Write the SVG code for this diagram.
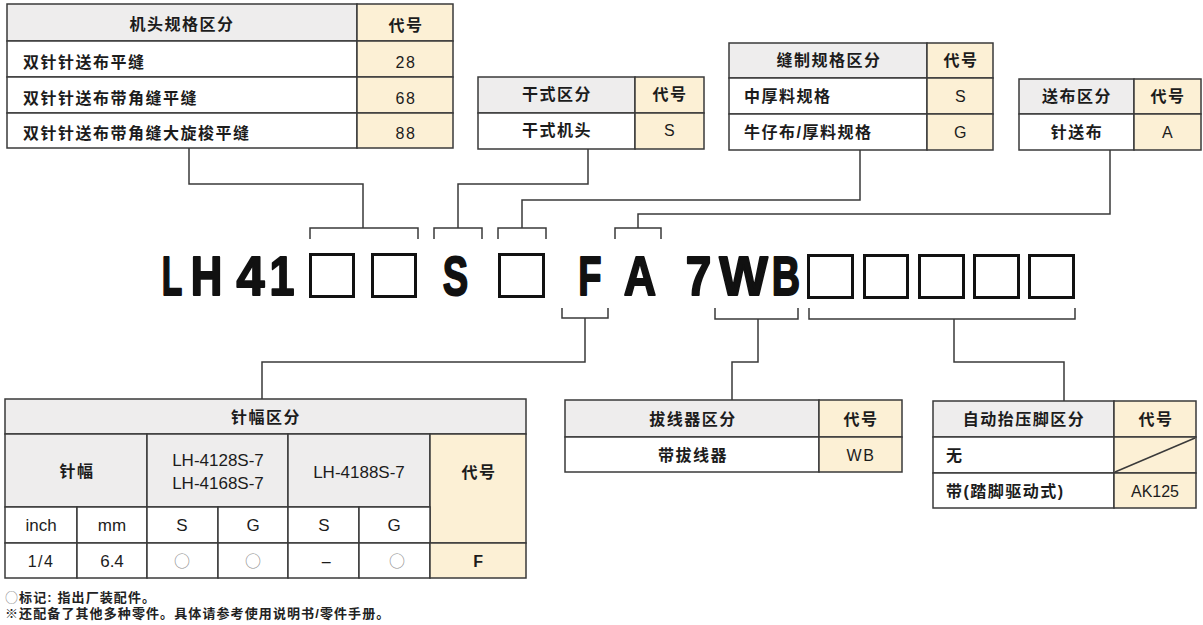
<svg xmlns="http://www.w3.org/2000/svg" width="1203" height="625" viewBox="0 0 1203 625">
<style>
.cl{stroke:#3a3a3a;stroke-width:1.5}
.hd{fill:#eeeded}
.cd{fill:#fcf0d5}
.wt{fill:#ffffff}
.t{font-family:"Liberation Sans","Noto Sans CJK SC",sans-serif;font-size:16px;fill:#1c1c1c;letter-spacing:1.5px}
.b{font-weight:bold}
.c{text-anchor:middle}
.l17{font-size:17px;letter-spacing:0}
.circ{font-family:"Noto Sans CJK SC",sans-serif;fill:#8a8a8a;letter-spacing:0}
.conn{fill:none;stroke:#3a3a3a;stroke-width:1.5}
.box{fill:none;stroke:#111;stroke-width:3}
.big{font-family:"Liberation Sans",sans-serif;font-weight:bold;font-size:56px;fill:#111;stroke:#111;stroke-width:2;stroke-linejoin:round;text-anchor:middle}
.note{font-family:"Liberation Sans","Noto Sans CJK SC",sans-serif;font-size:13px;font-weight:bold;fill:#222;letter-spacing:1.1px}
.nc{font-family:"Noto Sans CJK SC",sans-serif;font-weight:normal;fill:#888}
</style>
<rect width="1203" height="625" fill="#ffffff"/>

<g id="connectors">
<polyline class="conn" points="189,148 189,184 363,184 363,228"/>
<polyline class="conn" points="310,239 310,228 418,228 418,239"/>
<polyline class="conn" points="588,149 588,184 458,184 458,228"/>
<polyline class="conn" points="434,239 434,228 482,228 482,239"/>
<polyline class="conn" points="860,150 860,200 522,200 522,228"/>
<polyline class="conn" points="498,239 498,228 546,228 546,239"/>
<polyline class="conn" points="1110,150 1110,214 638,214 638,228"/>
<polyline class="conn" points="615,239 615,228 661,228 661,239"/>
<polyline class="conn" points="562,308 562,318 608,318 608,308"/>
<polyline class="conn" points="585,318 585,362 262,362 262,399"/>
<polyline class="conn" points="715,308 715,319 798,319 798,308"/>
<polyline class="conn" points="758,319 758,362 732,362 732,400"/>
<polyline class="conn" points="809,308 809,319 1075,319 1075,308"/>
<polyline class="conn" points="954,319 954,362 1064,362 1064,401"/>
</g>

<g id="model-code">
<text class="big" transform="translate(172,295) scale(0.6,1)">L</text>
<text class="big" transform="translate(206.5,295) scale(0.78,1)">H</text>
<text class="big" transform="translate(250.5,295) scale(0.9,1)">4</text>
<text class="big" transform="translate(282,295) scale(0.8,1)">1</text>
<rect class="box" x="310.5" y="254.5" width="43" height="42"/>
<rect class="box" x="372.5" y="254.5" width="43" height="42"/>
<text class="big" transform="translate(455.5,295) scale(0.68,1)">S</text>
<rect class="box" x="499.5" y="254.5" width="44" height="42"/>
<text class="big" transform="translate(590,295) scale(0.68,1)">F</text>
<text class="big" transform="translate(640,295) scale(0.8,1)">A</text>
<text class="big" transform="translate(698.5,295) scale(0.82,1)">7</text>
<text class="big" transform="translate(743.5,295) scale(0.92,1)">W</text>
<text class="big" transform="translate(786,295) scale(0.7,1)">B</text>
<rect class="box" x="808.5" y="255.5" width="44" height="42"/>
<rect class="box" x="864.5" y="255.5" width="43" height="42"/>
<rect class="box" x="919.5" y="255.5" width="44" height="42"/>
<rect class="box" x="974.5" y="255.5" width="44" height="42"/>
<rect class="box" x="1029.5" y="255.5" width="44" height="42"/>
</g>

<g id="table-head-spec">
<rect class="cl hd" x="7" y="4" width="350" height="37"/>
<rect class="cl cd" x="357" y="4" width="96" height="37"/>
<rect class="cl wt" x="7" y="41" width="350" height="36"/>
<rect class="cl cd" x="357" y="41" width="96" height="36"/>
<rect class="cl wt" x="7" y="77" width="350" height="36"/>
<rect class="cl cd" x="357" y="77" width="96" height="36"/>
<rect class="cl wt" x="7" y="113" width="350" height="35"/>
<rect class="cl cd" x="357" y="113" width="96" height="35"/>
<text class="t b c" x="182" y="30">机头规格区分</text>
<text class="t b c" x="406" y="31">代号</text>
<text class="t b" x="23" y="68">双针针送布平缝</text>
<text class="t c" x="406" y="68">28</text>
<text class="t b" x="23" y="104">双针针送布带角缝平缝</text>
<text class="t c" x="406" y="104">68</text>
<text class="t b" x="23" y="139">双针针送布带角缝大旋梭平缝</text>
<text class="t c" x="406" y="139">88</text>
</g>

<g id="table-dry">
<rect class="cl hd" x="478" y="77" width="157" height="36"/>
<rect class="cl cd" x="635" y="77" width="69" height="36"/>
<rect class="cl wt" x="478" y="113" width="157" height="36"/>
<rect class="cl cd" x="635" y="113" width="69" height="36"/>
<text class="t b c" x="557" y="100">干式区分</text>
<text class="t b c" x="670" y="100">代号</text>
<text class="t b c" x="557" y="136">干式机头</text>
<text class="t c" x="670" y="136">S</text>
</g>

<g id="table-sewing">
<rect class="cl hd" x="729" y="43" width="198" height="35"/>
<rect class="cl cd" x="927" y="43" width="66" height="35"/>
<rect class="cl wt" x="729" y="78" width="198" height="36"/>
<rect class="cl cd" x="927" y="78" width="66" height="36"/>
<rect class="cl wt" x="729" y="114" width="198" height="36"/>
<rect class="cl cd" x="927" y="114" width="66" height="36"/>
<text class="t b c" x="829" y="66">缝制规格区分</text>
<text class="t b c" x="961" y="66">代号</text>
<text class="t b" x="744" y="102">中厚料规格</text>
<text class="t c" x="961" y="102">S</text>
<text class="t b" x="744" y="138">牛仔布/厚料规格</text>
<text class="t c" x="961" y="138">G</text>
</g>

<g id="table-feed">
<rect class="cl hd" x="1019" y="79" width="115" height="35"/>
<rect class="cl cd" x="1134" y="79" width="67" height="35"/>
<rect class="cl wt" x="1019" y="114" width="115" height="36"/>
<rect class="cl cd" x="1134" y="114" width="67" height="36"/>
<text class="t b c" x="1077" y="102">送布区分</text>
<text class="t b c" x="1168" y="102">代号</text>
<text class="t b c" x="1077" y="138">针送布</text>
<text class="t c" x="1168" y="138">A</text>
</g>

<g id="table-needle-gauge">
<rect class="cl hd" x="5" y="399" width="521" height="35"/>
<rect class="cl hd" x="5" y="434" width="142" height="73"/>
<rect class="cl hd" x="147" y="434" width="141" height="73"/>
<rect class="cl hd" x="288" y="434" width="142" height="73"/>
<rect class="cl cd" x="430" y="434" width="96" height="109"/>
<rect class="cl wt" x="5" y="507" width="72" height="36"/>
<rect class="cl wt" x="77" y="507" width="70" height="36"/>
<rect class="cl wt" x="147" y="507" width="71" height="36"/>
<rect class="cl wt" x="218" y="507" width="70" height="36"/>
<rect class="cl wt" x="288" y="507" width="71" height="36"/>
<rect class="cl wt" x="359" y="507" width="71" height="36"/>
<rect class="cl wt" x="5" y="543" width="72" height="35"/>
<rect class="cl wt" x="77" y="543" width="70" height="35"/>
<rect class="cl wt" x="147" y="543" width="71" height="35"/>
<rect class="cl wt" x="218" y="543" width="70" height="35"/>
<rect class="cl wt" x="288" y="543" width="71" height="35"/>
<rect class="cl wt" x="359" y="543" width="71" height="35"/>
<rect class="cl cd" x="430" y="543" width="96" height="35"/>
<text class="t b c" x="266" y="423">针幅区分</text>
<text class="t b c" x="77" y="477">针幅</text>
<text class="t c l17" x="218" y="466">LH-4128S-7</text>
<text class="t c l17" x="218" y="489">LH-4168S-7</text>
<text class="t c l17" x="359" y="478">LH-4188S-7</text>
<text class="t b c" x="479" y="478">代号</text>
<text class="t c l17" x="41" y="531">inch</text>
<text class="t c l17" x="112" y="531">mm</text>
<text class="t c l17" x="182" y="531">S</text>
<text class="t c l17" x="253" y="531">G</text>
<text class="t c l17" x="324" y="531">S</text>
<text class="t c l17" x="394" y="531">G</text>
<text class="t c" x="41" y="567">1/4</text>
<text class="t c l17" x="112" y="567">6.4</text>
<text class="t c circ" x="182" y="567">○</text>
<text class="t c circ" x="253" y="567">○</text>
<text class="t c" x="327" y="567">–</text>
<text class="t c circ" x="397" y="567">○</text>
<text class="t b c" x="479" y="567">F</text>
</g>

<g id="table-thread-wiper">
<rect class="cl hd" x="565" y="400" width="254" height="37"/>
<rect class="cl cd" x="819" y="400" width="83" height="37"/>
<rect class="cl wt" x="565" y="437" width="254" height="35"/>
<rect class="cl cd" x="819" y="437" width="83" height="35"/>
<text class="t b c" x="693" y="425">拔线器区分</text>
<text class="t b c" x="861" y="425">代号</text>
<text class="t b c" x="693" y="461">带拔线器</text>
<text class="t c" x="861" y="461">WB</text>
</g>

<g id="table-auto-lifter">
<rect class="cl hd" x="933" y="401" width="181" height="36"/>
<rect class="cl cd" x="1114" y="401" width="82" height="36"/>
<rect class="cl wt" x="933" y="437" width="181" height="36"/>
<rect class="cl cd" x="1114" y="437" width="82" height="36"/>
<rect class="cl wt" x="933" y="473" width="181" height="35"/>
<rect class="cl cd" x="1114" y="473" width="82" height="35"/>
<line class="cl" x1="1115" y1="472" x2="1195" y2="438"/>
<text class="t b c" x="1024" y="425">自动抬压脚区分</text>
<text class="t b c" x="1156" y="425">代号</text>
<text class="t b" x="946" y="461">无</text>
<text class="t b" x="946" y="497">带(踏脚驱动式)</text>
<text class="t c" x="1155" y="497" style="letter-spacing:0">AK125</text>
</g>

<g id="notes">
<text class="note" x="5" y="602"><tspan class="nc">○</tspan>标记: 指出厂装配件。</text>
<text class="note" x="5" y="618">※还配备了其他多种零件。具体请参考使用说明书/零件手册。</text>
</g>
</svg>
